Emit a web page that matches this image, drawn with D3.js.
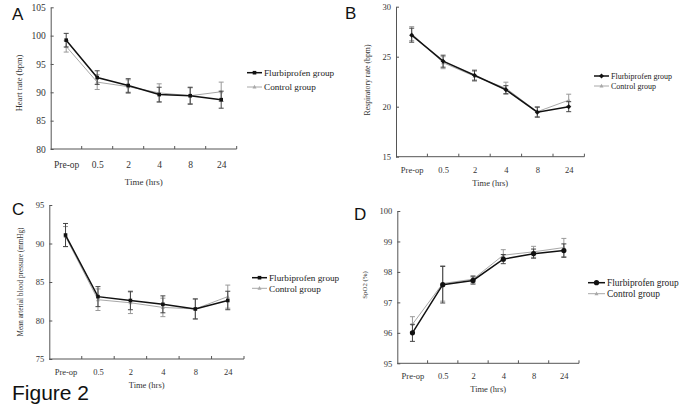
<!DOCTYPE html>
<html><head><meta charset="utf-8">
<script src="https://cdn.jsdelivr.net/npm/d3@7"></script>
<style>
body{margin:0;background:#fff;}
svg{display:block;}
</style></head>
<body>
<svg id="chart" width="685" height="407"></svg>
<script>
const categories = ["Pre-op","0.5","2","4","8","24"];
const seriesNames = ["Flurbiprofen group","Control group"];

// Panel A: Heart rate (bpm)
const hrFlurbi = [99.2, 92.6, 91.2, 89.6, 89.4, 88.7];
const hrControl = [98.1, 91.8, 91.0, 89.9, 89.4, 90.1];
const hrFlurbiErr = [1.2, 1.2, 1.2, 1.3, 1.5, 1.5];
const hrControlErr = [1.0, 1.3, 1.2, 1.6, 1.4, 1.7];
const hrTicks = [80, 85, 90, 95, 100, 105];

// Panel B: Respiratory rate (bpm)
const rrFlurbi = [27.15, 24.55, 23.15, 21.7, 19.45, 20.0];
const rrControl = [27.3, 24.4, 23.05, 21.85, 19.5, 20.65];
const rrFlurbiErr = [0.7, 0.6, 0.5, 0.4, 0.5, 0.5];
const rrControlErr = [0.7, 0.6, 0.5, 0.6, 0.5, 0.6];
const rrTicks = [15, 20, 25, 30];

// Panel C: Mean arterial blood pressure (mmHg)
const mapFlurbi = [91.1, 83.1, 82.6, 82.1, 81.5, 82.6];
const mapControl = [90.9, 82.7, 82.3, 81.7, 81.5, 83.1];
const mapFlurbiErr = [1.5, 1.3, 1.2, 1.1, 1.3, 1.2];
const mapControlErr = [1.3, 1.4, 1.4, 1.2, 1.3, 1.5];
const mapTicks = [75, 80, 85, 90, 95];

// Panel D: SpO2 (%)
const spoFlurbi = [96.0, 97.58, 97.72, 98.42, 98.6, 98.7];
const spoControl = [96.28, 97.62, 97.76, 98.55, 98.66, 98.8];
const spoFlurbiErr = [0.28, 0.6, 0.12, 0.15, 0.15, 0.22];
const spoControlErr = [0.25, 0.58, 0.12, 0.18, 0.18, 0.3];
const spoTicks = [95, 96, 97, 98, 99, 100];

const svg = d3.select("#chart");
const serif = "'Liberation Serif','Times New Roman',serif";
const sans = "'Liberation Sans',Arial,sans-serif";

function panel(o){
  const x = d3.scalePoint().domain(categories).range([o.left, o.right]).padding(0.5);
  const y = d3.scaleLinear().domain([o.ticks[0], o.ticks[o.ticks.length-1]]).range([o.bottom, o.top]);
  const g = svg.append("g");
  const step = x.step();

  // y axis
  const ya = g.append("g").attr("transform", `translate(${o.left},0)`)
    .call(d3.axisLeft(y).tickValues(o.ticks).tickFormat(d3.format("d")).tickSizeInner(-3).tickSizeOuter(0).tickPadding(5));
  ya.select(".domain").attr("stroke","#555").attr("stroke-width",1);
  ya.selectAll(".tick line").attr("stroke","#555");
  ya.selectAll("text").attr("font-family", serif).attr("font-size", o.tickFs).attr("fill","#333");

  // x axis
  const xa = g.append("g").attr("transform", `translate(0,${o.bottom})`)
    .call(d3.axisBottom(x).tickSize(0).tickPadding(o.xlabPad));
  xa.select(".domain").attr("stroke","#555").attr("stroke-width",1)
    .attr("d", `M${o.left},0H${x(categories[0]) + step*(categories.length-0.5)}`);
  xa.selectAll("text").attr("font-family", serif).attr("font-size", o.tickFs).attr("fill","#333");
  g.selectAll(".bt").data(categories).enter().append("line")
    .attr("x1", d => x(d) + step/2).attr("x2", d => x(d) + step/2)
    .attr("y1", o.bottom).attr("y2", o.bottom - 3)
    .attr("stroke","#555").attr("stroke-width",1);

  // titles
  g.append("text").attr("x", (o.left + o.right)/2).attr("y", o.xTitleY)
    .attr("text-anchor","middle").attr("font-family", serif).attr("font-size", o.xTitleFs)
    .attr("fill","#333").text("Time (hrs)");
  g.append("text").attr("transform", `translate(${o.yTitleX},${o.yTitleY}) rotate(-90)`)
    .attr("text-anchor","middle").attr("font-family", serif).attr("font-size", o.yTitleFs)
    .attr("fill","#333").text(o.yTitle);
  g.append("text").attr("x", o.letterX).attr("y", o.letterY)
    .attr("font-family", sans).attr("font-size", 17).attr("fill","#111").text(o.letter);

  const series = [
    {vals:o.control, err:o.controlErr, color:"#a8a8a8", w:1, marker:"tri"},
    {vals:o.flurbi, err:o.flurbiErr, color:"#111", w:1.5, marker:o.fMarker}
  ];
  const line = d3.line().x((d,i)=>x(categories[i])).y(d=>y(d));
  series.forEach(s=>{
    const eg = g.append("g");
    const ec = s.color==="#111" ? "#444" : "#999";
    s.vals.forEach((v,i)=>{
      const cx = x(categories[i]);
      const y1 = y(v + s.err[i]), y2 = y(v - s.err[i]);
      eg.append("line").attr("x1",cx).attr("x2",cx).attr("y1",y1).attr("y2",y2)
        .attr("stroke", ec).attr("stroke-width",1);
      [y1,y2].forEach(yy=>eg.append("line").attr("x1",cx-2.5).attr("x2",cx+2.5)
        .attr("y1",yy).attr("y2",yy).attr("stroke", ec).attr("stroke-width",1));
    });
    g.append("path").datum(s.vals).attr("d", line).attr("fill","none")
      .attr("stroke", s.color).attr("stroke-width", s.w);
    s.vals.forEach((v,i)=>drawMarker(g, x(categories[i]), y(v), s.marker, s.color));
  });

  // legend
  const lg = g.append("g");
  [[seriesNames[0], o.legY1, "#111", 1.5, o.fMarker],[seriesNames[1], o.legY2, "#a8a8a8", 1, "tri"]].forEach(d=>{
    lg.append("line").attr("x1", o.legX).attr("x2", o.legX + o.legLen).attr("y1", d[1]).attr("y2", d[1])
      .attr("stroke", d[2]).attr("stroke-width", d[3]);
    drawMarker(lg, o.legX + o.legLen/2, d[1], d[4], d[2]);
    lg.append("text").attr("x", o.legX + o.legLen + 2).attr("y", d[1]).attr("dy","0.35em")
      .attr("font-family", serif).attr("font-size", o.legFs).attr("fill","#222").text(d[0]);
  });
}

function drawMarker(g, cx, cy, type, color){
  if(type==="sq"){
    g.append("rect").attr("x",cx-1.8).attr("y",cy-1.8).attr("width",3.6).attr("height",3.6).attr("fill",color);
  } else if(type==="dia"){
    g.append("path").attr("d",`M${cx},${cy-2.5}L${cx+2.5},${cy}L${cx},${cy+2.5}L${cx-2.5},${cy}Z`).attr("fill",color);
  } else if(type==="circ"){
    g.append("circle").attr("cx",cx).attr("cy",cy).attr("r",2.6).attr("fill",color);
  } else {
    g.append("path").attr("d",`M${cx},${cy-2.2}L${cx+2},${cy+1.5}L${cx-2},${cy+1.5}Z`).attr("fill",color);
  }
}

panel({letter:"A", letterX:12, letterY:20, left:50.7, right:236.7, top:7.3, bottom:149,
  ticks:hrTicks, flurbi:hrFlurbi, control:hrControl, flurbiErr:hrFlurbiErr, controlErr:hrControlErr,
  fMarker:"sq", tickFs:9.5, xlabPad:12, xTitleY:185, xTitleFs:9, yTitle:"Heart rate (bpm)", yTitleX:22, yTitleY:83, yTitleFs:8.5,
  legX:247, legLen:15, legY1:72.7, legY2:87, legFs:9.2});

panel({letter:"B", letterX:345, letterY:19, left:396, right:584.4, top:6.7, bottom:156.7,
  ticks:rrTicks, flurbi:rrFlurbi, control:rrControl, flurbiErr:rrFlurbiErr, controlErr:rrControlErr,
  fMarker:"dia", tickFs:8.5, xlabPad:10, xTitleY:186, xTitleFs:8.5, yTitle:"Respiratory rate (bpm)", yTitleX:370, yTitleY:80, yTitleFs:7.8,
  legX:594, legLen:15, legY1:76, legY2:86, legFs:8});

panel({letter:"C", letterX:12, letterY:215, left:49.3, right:244, top:205, bottom:359,
  ticks:mapTicks, flurbi:mapFlurbi, control:mapControl, flurbiErr:mapFlurbiErr, controlErr:mapControlErr,
  fMarker:"sq", tickFs:8.5, xlabPad:10, xTitleY:388, xTitleFs:8.5, yTitle:"Mean arterial blood pressure (mmHg)", yTitleX:23, yTitleY:282, yTitleFs:7.2,
  legX:252, legLen:15, legY1:277.7, legY2:288.3, legFs:9.2});

panel({letter:"D", letterX:354, letterY:220, left:397.3, right:579, top:211, bottom:363.3,
  ticks:spoTicks, flurbi:spoFlurbi, control:spoControl, flurbiErr:spoFlurbiErr, controlErr:spoControlErr,
  fMarker:"circ", tickFs:8.5, xlabPad:10, xTitleY:392, xTitleFs:8.5, yTitle:"SpO2 (%)", yTitleX:367, yTitleY:285, yTitleFs:6.8,
  legX:588, legLen:17, legY1:282.7, legY2:293.7, legFs:9.4});

svg.append("text").attr("x", 12).attr("y", 400).attr("font-family", sans).attr("font-size", 21)
  .attr("fill","#111").text("Figure 2");
</script>
</body></html>
